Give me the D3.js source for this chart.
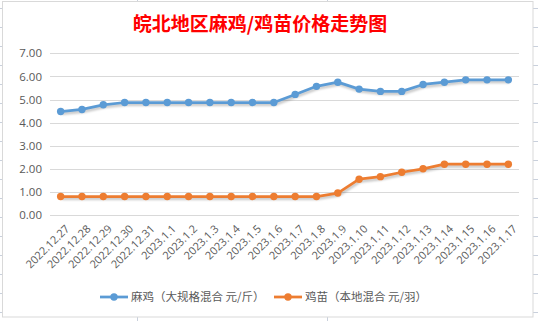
<!DOCTYPE html>
<html><head><meta charset="utf-8">
<script src="https://cdn.jsdelivr.net/npm/d3@7"></script>
<style>html,body{margin:0;padding:0;background:#fff;}svg{display:block;}</style>
</head><body>
<svg id="c" width="538" height="321"></svg>
<script>
const categories = ["2022.12.27","2022.12.28","2022.12.29","2022.12.30","2022.12.31","2023.1.1","2023.1.2","2023.1.3","2023.1.4","2023.1.5","2023.1.6","2023.1.7","2023.1.8","2023.1.9","2023.1.10","2023.1.11","2023.1.12","2023.1.13","2023.1.14","2023.1.15","2023.1.16","2023.1.17"];
const maji = [4.48,4.57,4.77,4.87,4.87,4.87,4.87,4.87,4.87,4.87,4.87,5.22,5.57,5.75,5.45,5.35,5.35,5.65,5.75,5.85,5.85,5.85];
const jimiao = [0.8,0.8,0.8,0.8,0.8,0.8,0.8,0.8,0.8,0.8,0.8,0.8,0.8,0.95,1.55,1.66,1.85,2.0,2.2,2.2,2.2,2.2];
const yTicks = [0,1,2,3,4,5,6,7];
const seriesNames = ["麻鸡（大规格混合 元/斤）","鸡苗（本地混合 元/羽）"];
const colors = ["#5B9BD5","#ED7D31"];
const title = "皖北地区麻鸡/鸡苗价格走势图";

const svg = d3.select("#c");
// spreadsheet background gridlines
const bg = svg.append("g").attr("stroke","#c9d0dc").attr("stroke-width",1);
d3.range(0,17).forEach(k=>{ const y=8.5+19*k; bg.append("line").attr("x1",0).attr("x2",538).attr("y1",y).attr("y2",y); });
[137.5,327.5].forEach(x=>bg.append("line").attr("x1",x).attr("x2",x).attr("y1",0).attr("y2",321));

// chart area
svg.append("rect").attr("x",2.5).attr("y",1.5).attr("width",530.5).attr("height",315.5)
  .attr("fill","#fff").attr("stroke","#d9d9d9");

const defs = svg.append("defs");
defs.append("filter").attr("id","sh").attr("x","-10%").attr("y","-50%").attr("width","120%").attr("height","200%")
  .append("feGaussianBlur").attr("stdDeviation",1.2);

const x = d3.scaleBand().domain(categories).range([50,519]);
const y = d3.scaleLinear().domain([0,7]).range([215,53.3]);
const cx = d => x(d) + x.bandwidth()/2;

// gridlines
const grid = svg.append("g");
yTicks.forEach(t=>{
  grid.append("line").attr("x1",50).attr("x2",519).attr("y1",Math.round(y(t))+0.5).attr("y2",Math.round(y(t))+0.5)
    .attr("stroke","#d9d9d9").attr("stroke-width",1);
});
// y labels
const yAxis = d3.axisLeft(y).tickValues(yTicks).tickFormat(d3.format(".2f")).tickSize(0).tickPadding(0);
const ya = svg.append("g").attr("transform","translate(42,0)").call(yAxis);
ya.select(".domain").remove();
ya.selectAll("text").attr("fill","#595959").attr("font-family","'Open Sans', 'Noto Sans', sans-serif").attr("font-size","11.5px");

// x labels
const xl = svg.append("g");
categories.forEach(c=>{
  xl.append("text").attr("transform",`translate(${cx(c)+4},224) rotate(-45)`)
    .attr("text-anchor","end").attr("dy","0.7em")
    .attr("fill","#595959").attr("font-family","'Open Sans', 'Noto Sans', sans-serif").attr("font-size","11px")
    .text(c);
});

const series = [maji, jimiao];
const line = d3.line().x((d,i)=>cx(categories[i])).y(d=>y(d));
series.forEach((s,k)=>{
  const g = svg.append("g");
  g.append("path").attr("d",line(s)).attr("fill","none").attr("stroke","#000").attr("stroke-opacity",0.22)
    .attr("stroke-width",3).attr("transform","translate(1,2)").attr("filter","url(#sh)");
  g.append("path").attr("d",line(s)).attr("fill","none").attr("stroke",colors[k]).attr("stroke-width",2.75).attr("stroke-linejoin","round");
  g.selectAll("circle").data(s).join("circle").attr("cx",(d,i)=>cx(categories[i])).attr("cy",d=>y(d))
    .attr("r",3.7).attr("fill",colors[k]);
});

// legend
const legX = [100,274];
seriesNames.forEach((n,k)=>{
  const g = svg.append("g").attr("transform",`translate(${legX[k]},297)`);
  g.append("line").attr("x1",0).attr("x2",28).attr("stroke",colors[k]).attr("stroke-width",2.75);
  g.append("circle").attr("cx",14).attr("r",3.7).attr("fill",colors[k]);
  g.append("text").attr("x",31).attr("dy","0.36em").attr("fill","#595959")
    .attr("font-family","'Noto Sans CJK SC', sans-serif").attr("font-size","11.5px").text(n);
});

// title
svg.append("text").attr("x",260).attr("y",31).attr("text-anchor","middle").attr("fill","#FF0000")
  .attr("font-family","'Noto Sans CJK SC', sans-serif").attr("font-weight","bold").attr("font-size","19px").text(title);
</script>
</body></html>
